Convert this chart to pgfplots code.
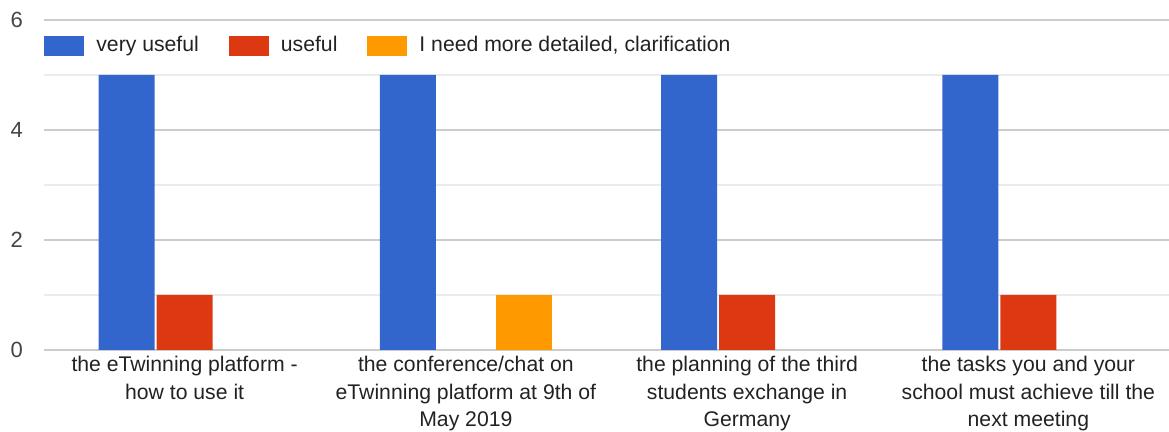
\documentclass[border=0pt]{standalone}
\usepackage{fontspec}
\setmainfont{Liberation Sans}
\usepackage{pgfplots}
\pgfplotsset{compat=1.18}
\definecolor{gblue}{HTML}{3366CC}
\definecolor{gred}{HTML}{DC3912}
\definecolor{gorange}{HTML}{FF9900}
\definecolor{txt}{HTML}{222222}
\definecolor{ticktxt}{HTML}{444444}
\begin{document}
\begin{tikzpicture}
\begin{axis}[
name=a,
scale only axis,
width=562.5pt, height=165pt,
ybar=1pt, bar width=28pt,
xmin=-0.5, xmax=3.5, ymin=0, ymax=6,
xtick={0,1,2,3},
xticklabels={{the eTwinning platform -\\how to use it},
  {the conference/chat on\\eTwinning platform at 9th of\\May 2019},
  {the planning of the third\\students exchange in\\Germany},
  {the tasks you and your\\school must achieve till the\\next meeting}},
x tick label style={align=center, text=txt, font={\fontsize{10.6}{13.8}\selectfont}, inner sep=1pt, yshift=-2pt},
ytick={0,2,4,6}, minor ytick={1,3,5},
y tick label style={text=ticktxt, font={\fontsize{11}{13}\selectfont}, xshift=-7pt},
/pgf/number format/assume math mode=true,
major tick length=0pt, minor tick length=0pt,
ymajorgrids, yminorgrids,
major grid style={draw=black!20, line width=0.6pt},
minor grid style={draw=black!8, line width=0.6pt},
extra y ticks={0}, extra y tick labels={},
extra y tick style={grid style={draw=black, line width=1pt}},
axis line style={draw=none},
legend style={at={(0,1)}, anchor=north west, draw=none, fill=none, inner sep=0pt, yshift=-6pt,
  font={\fontsize{10.6}{13}\selectfont}, text=txt,
  /tikz/every even column/.append style={column sep=13pt}},
legend columns=-1,
legend image code/.code={\fill[#1] (0pt,-5pt) rectangle (20pt,5pt); \path (24pt,0pt);},
]
\addplot[fill=gblue, draw=none] coordinates {(0,5) (1,5) (2,5) (3,5)};
\addplot[fill=gred, draw=none] coordinates {(0,1) (2,1) (3,1)};
\addplot[fill=gorange, draw=none] coordinates {(1,1)};
\legend{very useful, useful, {I need more detailed, clarification}}
\end{axis}
\pgfresetboundingbox
\useasboundingbox ([xshift=-22pt,yshift=-41pt]a.south west) rectangle ([yshift=10pt]a.north east);
\end{tikzpicture}
\end{document}
